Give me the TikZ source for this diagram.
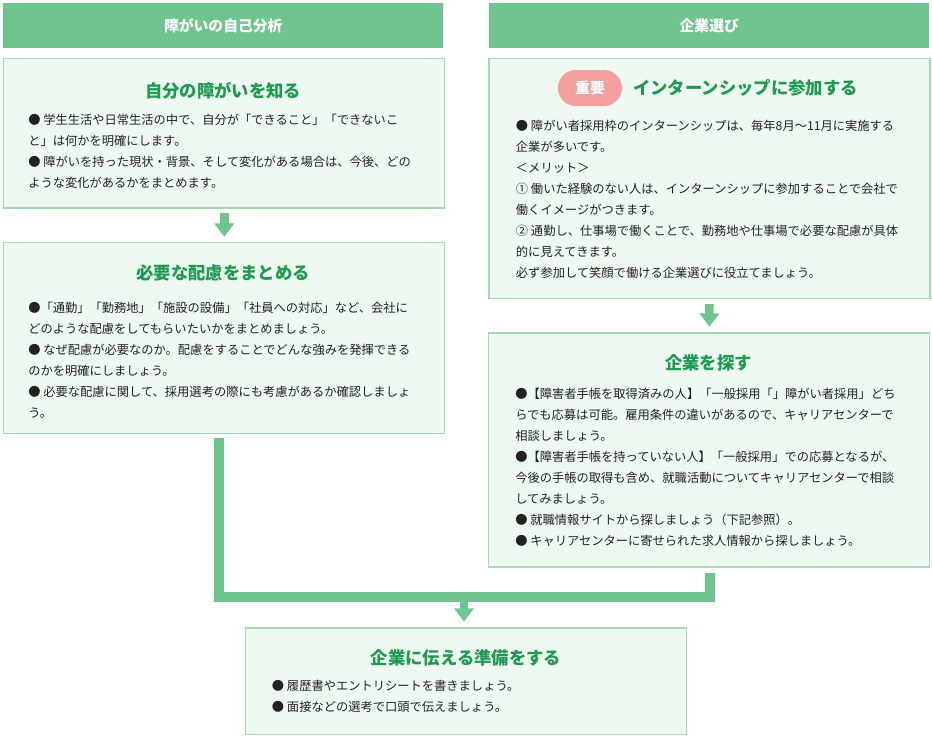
\documentclass[tikz,border=0pt]{standalone}
\usepackage{fontspec}
\setmainfont{Noto Sans CJK JP}
\usetikzlibrary{arrows.meta,calc}
\definecolor{hdgreen}{RGB}{110,198,142}
\definecolor{boxfill}{RGB}{237,249,241}
\definecolor{boxline}{RGB}{163,219,181}
\definecolor{ttlgreen}{RGB}{30,155,80}
\definecolor{bodytext}{RGB}{34,34,34}
\definecolor{badgepink}{RGB}{244,160,160}

\begin{document}
\begin{tikzpicture}[x=0.75pt,y=0.75pt,yscale=-1,xscale=1,
	hdr/.style={anchor=north west,fill=hdgreen,text=white,inner sep=0pt,minimum width=330pt,minimum height=33.4pt,font=\fontsize{11.1}{13}\selectfont\bfseries},
	box/.style={anchor=north west,draw=boxline,line width=1.1pt,fill=boxfill,inner sep=0pt,minimum width=330.75pt},
	ttl/.style={text=ttlgreen,inner sep=0pt,font=\fontsize{13}{15}\selectfont\bfseries},
	txt/.style={anchor=north west,align=left,inner sep=0pt,text=bodytext,font=\fontsize{9.2}{15.75}\selectfont},
	badge/.style={fill=badgepink,text=white,rounded corners=13.5pt,minimum width=48pt,minimum height=27pt,inner sep=0pt,font=\fontsize{11}{13}\selectfont\bfseries},
	flow/.style={draw=hdgreen,line width=6.4pt,-{Triangle[width=14.25pt,length=10pt]}},
	link/.style={draw=hdgreen,line width=7.5pt,line join=miter}]
	\useasboundingbox (0,0) rectangle (932,739);

	\node[hdr] (hd-jiko) at (3,3) {障がいの自己分析};
	\node[hdr] (hd-kigyo) at (489,3) {企業選び};

	\node[box,minimum height=112.35pt] (jibun) at (3,57.5) {};
	\node[box,minimum height=143.25pt] (hairyo) at (3,241.7) {};
	\node[box,minimum height=179.8pt] (intern) at (488.3,58) {};
	\node[box,minimum height=175.3pt] (sagasu) at (488,332.3) {};
	\node[box,minimum height=80pt] (junbi) at (245,627.3) {};

	\coordinate (merge) at (464,596.5);
	\draw[link] ($(hairyo.south)+(-5,4.3)$) |- (merge) -| ($(sagasu.south)+(0.5,5)$);
	\draw[flow,shorten <=3.3pt,shorten >=3.75pt] (jibun.south) -- (hairyo.north);
	\draw[flow,shorten <=3.75pt,shorten >=4.2pt] (intern.south) -- (sagasu.north);
	\draw[flow,shorten >=4.2pt] (merge) -- (merge |- junbi.north);

	\node[ttl] (jibun-t) at (223,90.5) {自分の障がいを知る};
	\node[txt] (jibun-b) at (28,114) {● 学生生活や日常生活の中で、自分が「できること」「できないこ\\と」は何かを明確にします。\\● 障がいを持った現状・背景、そして変化がある場合は、今後、どの\\ような変化があるかをまとめます。};
	\node[ttl] (hairyo-t) at (223,273) {必要な配慮をまとめる};
	\node[txt] (hairyo-b) at (28,301.5) {●「通勤」「勤務地」「施設の設備」「社員への対応」など、会社に\\どのような配慮をしてもらいたいかをまとめましょう。\\● なぜ配慮が必要なのか。配慮をすることでどんな強みを発揮できる\\のかを明確にしましょう。\\● 必要な配慮に関して、採用選考の際にも考慮があるか確認しましょ\\う。};
	\node[badge] (juyo) at (590,88) {重要};
	\node[ttl] (intern-t) at (745.5,88) {インターンシップに参加する};
	\node[txt] (intern-b) at (515.7,120) {● 障がい者採用枠のインターンシップは、毎年8月〜11月に実施する\\企業が多いです。\\＜メリット＞\\① 働いた経験のない人は、インターンシップに参加することで会社で\\働くイメージがつきます。\\② 通勤し、仕事場で働くことで、勤務地や仕事場で必要な配慮が具体\\的に見えてきます。\\必ず参加して笑顔で働ける企業選びに役立てましょう。};
	\node[ttl] (sagasu-t) at (708.5,363) {企業を探す};
	\node[txt] (sagasu-b) at (515,388) {●【障害者手帳を取得済みの人】「一般採用「」障がい者採用」どち\\らでも応募は可能。雇用条件の違いがあるので、キャリアセンターで\\相談しましょう。\\●【障害者手帳を持っていない人】「一般採用」での応募となるが、\\今後の手帳の取得も含め、就職活動についてキャリアセンターで相談\\してみましょう。\\● 就職情報サイトから探しましょう（下記参照）。\\● キャリアセンターに寄せられた求人情報から探しましょう。};
	\node[ttl] (junbi-t) at (466,658) {企業に伝える準備をする};
	\node[txt] (junbi-b) at (271.7,680) {● 履歴書やエントリシートを書きましょう。\\● 面接などの選考で口頭で伝えましょう。};
\end{tikzpicture}
\end{document}
